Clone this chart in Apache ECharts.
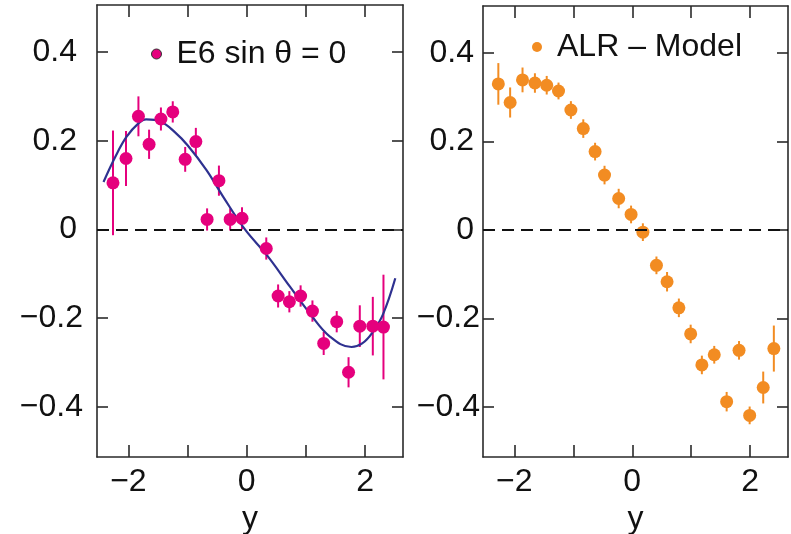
<!DOCTYPE html>
<html>
<head>
<meta charset="utf-8">
<script src="https://cdn.jsdelivr.net/npm/echarts@6/dist/echarts.min.js"></script>
<style>
html,body{margin:0;padding:0;background:#fff;}
#c{width:791px;height:534px;}
</style>
</head>
<body>
<div id="c"></div>
<script>
// ---- data ----
const leftX = [-2.26,-2.04,-1.83,-1.65,-1.45,-1.25,-1.04,-0.86,-0.67,-0.47,-0.28,-0.08,0.33,0.53,0.72,0.91,1.11,1.30,1.52,1.72,1.91,2.13,2.31];
const leftY = [0.105,0.16,0.255,0.192,0.249,0.265,0.158,0.198,0.0225,0.11,0.0225,0.025,-0.043,-0.150,-0.163,-0.150,-0.184,-0.257,-0.208,-0.322,-0.218,-0.218,-0.22];
const leftErr = [0.118,0.062,0.045,0.033,0.026,0.024,0.028,0.031,0.025,0.034,0.025,0.025,0.025,0.026,0.024,0.024,0.024,0.026,0.024,0.034,0.047,0.066,0.118];

const fitX = [-2.42,-2.22,-2.03,-1.83,-1.70,-1.45,-1.22,-1.00,-0.68,-0.40,-0.03,0.34,0.73,1.07,1.41,1.77,1.95,2.12,2.30,2.51];
const fitY = [0.107,0.164,0.209,0.239,0.248,0.243,0.22,0.19,0.134,0.074,0.0,-0.058,-0.129,-0.19,-0.242,-0.265,-0.257,-0.233,-0.192,-0.11];

const rightX = [-2.27,-2.07,-1.86,-1.65,-1.45,-1.25,-1.04,-0.83,-0.63,-0.47,-0.23,-0.02,0.18,0.41,0.59,0.79,0.99,1.18,1.39,1.60,1.81,1.99,2.22,2.40];
const rightY = [0.33,0.288,0.339,0.332,0.327,0.314,0.271,0.229,0.177,0.124,0.071,0.035,-0.005,-0.08,-0.117,-0.176,-0.235,-0.305,-0.282,-0.388,-0.272,-0.419,-0.356,-0.268];
const rightErr = [0.047,0.034,0.028,0.022,0.021,0.019,0.02,0.021,0.02,0.021,0.022,0.02,0.02,0.02,0.022,0.021,0.021,0.021,0.02,0.022,0.021,0.02,0.036,0.052];

const xTicks = [-2,-1,0,1,2];
const xLabels = [-2,0,2];
const yTicks = [-0.4,-0.2,0,0.2,0.4];
const leftName = 'E6 sin θ = 0';
const rightName = 'ALR – Model';
const xName = 'y';

// ---- styling ----
const PINK = '#e5007d';
const ORANGE = '#f28c22';
const FIT = '#2e3190';
const AXC = '#2a2a2a';
const FONT = 'Liberation Sans, Arial, Helvetica, sans-serif';

function fmt(v){
  if (Math.abs(v) < 1e-9) return '{p|0}';
  const s = String(Math.round(Math.abs(v)*10)/10);
  return v < 0 ? '{n|\u2212' + s + '}' : '{p|' + s + '}';
}
const rich = {
  p:{fontSize:32,fontFamily:FONT,color:'#111',padding:[0,6,0,0]},
  n:{fontSize:32,fontFamily:FONT,color:'#111'}
};

function xAxes(gi){
  return [
    {type:'value',gridIndex:gi,min:-2.53,max:2.64,position:'bottom',
     name:xName,nameLocation:'middle',nameGap:31,
     nameTextStyle:{fontSize:32,fontFamily:FONT,color:'#111'},
     axisLine:{show:true,onZero:false,lineStyle:{color:AXC,width:1.6}},
     axisTick:{show:true,inside:true,length:12,customValues:xTicks,lineStyle:{color:AXC,width:1.6}},
     axisLabel:{show:true,customValues:xLabels,margin:9,fontSize:32,fontFamily:FONT,color:'#111',
       formatter:v=> v<0 ? '\u2212'+Math.abs(v) : String(v)},
     splitLine:{show:false}},
    {type:'value',gridIndex:gi,min:-2.53,max:2.64,position:'top',
     axisLine:{show:true,onZero:false,lineStyle:{color:AXC,width:1.6}},
     axisTick:{show:true,inside:true,length:12,customValues:xTicks,lineStyle:{color:AXC,width:1.6}},
     axisLabel:{show:false},splitLine:{show:false}}
  ];
}
function yAxes(gi, margin){
  return [
    {type:'value',gridIndex:gi,min:-0.513,max:0.506,position:'left',
     axisLine:{show:true,onZero:false,lineStyle:{color:AXC,width:1.6}},
     axisTick:{show:true,inside:true,length:11,customValues:yTicks,lineStyle:{color:AXC,width:1.6}},
     axisLabel:{show:true,customValues:yTicks,margin:margin,formatter:fmt,rich:rich},
     splitLine:{show:false}},
    {type:'value',gridIndex:gi,min:-0.513,max:0.506,position:'right',
     axisLine:{show:true,onZero:false,lineStyle:{color:AXC,width:1.6}},
     axisTick:{show:true,inside:true,length:11,customValues:yTicks,lineStyle:{color:AXC,width:1.6}},
     axisLabel:{show:false},splitLine:{show:false}}
  ];
}

function errRender(color){
  return function(params, api){
    const x = api.value(0), y = api.value(1), e = api.value(2);
    const a = api.coord([x, y - e]), b = api.coord([x, y + e]);
    return {type:'line',shape:{x1:a[0],y1:a[1],x2:b[0],y2:b[1]},style:{stroke:color,lineWidth:2}};
  };
}

const leftPts = leftX.map((x,i)=>[x,leftY[i]]);
const leftErrData = leftX.map((x,i)=>[x,leftY[i],leftErr[i]]);
const rightPts = rightX.map((x,i)=>[x,rightY[i]]);
const rightErrData = rightX.map((x,i)=>[x,rightY[i],rightErr[i]]);
const fitData = fitX.map((x,i)=>[x,fitY[i]]);

const zeroLine = {silent:true,symbol:['none','none'],label:{show:false},
  lineStyle:{color:'#111',type:[12,7],width:1.8},data:[{yAxis:0}]};

const option = {
  animation:false,
  backgroundColor:'#fff',
  grid:[
    {left:97,top:5,width:306,height:452,outerBoundsMode:'none',containLabel:false},
    {left:483,top:6,width:305,height:451,outerBoundsMode:'none',containLabel:false}
  ],
  xAxis:[...xAxes(0), ...xAxes(1)],
  yAxis:[...yAxes(0,14), ...yAxes(1,3)],
  legend:[
    {data:[leftName],left:146,top:33,icon:'circle',itemWidth:10,itemHeight:10,
     itemStyle:{borderColor:'#333',borderWidth:1},
     textStyle:{fontSize:32,fontFamily:FONT,color:'#111',padding:[0,0,0,10]}},
    {data:[rightName],left:527,top:26,icon:'circle',itemWidth:10,itemHeight:10,
     textStyle:{fontSize:32,fontFamily:FONT,color:'#111',padding:[0,0,0,10]}}
  ],
  series:[
    {type:'line',xAxisIndex:0,yAxisIndex:0,data:[],markLine:zeroLine,silent:true},
    {type:'line',xAxisIndex:2,yAxisIndex:2,data:[],markLine:zeroLine,silent:true},
    {type:'custom',xAxisIndex:0,yAxisIndex:0,data:leftErrData,renderItem:errRender(PINK),encode:{x:0,y:1},z:2},
    {type:'line',xAxisIndex:0,yAxisIndex:0,data:fitData,smooth:0.4,showSymbol:false,
     lineStyle:{color:FIT,width:2.2},z:3},
    {name:leftName,type:'scatter',xAxisIndex:0,yAxisIndex:0,data:leftPts,symbolSize:13,
     itemStyle:{color:PINK,opacity:1},z:4},
    {type:'custom',xAxisIndex:2,yAxisIndex:2,data:rightErrData,renderItem:errRender(ORANGE),encode:{x:0,y:1},z:2},
    {name:rightName,type:'scatter',xAxisIndex:2,yAxisIndex:2,data:rightPts,symbolSize:13,
     itemStyle:{color:ORANGE,opacity:1},z:4}
  ]
};
const chart = echarts.init(document.getElementById('c'));
chart.setOption(option);
</script>
</body>
</html>
